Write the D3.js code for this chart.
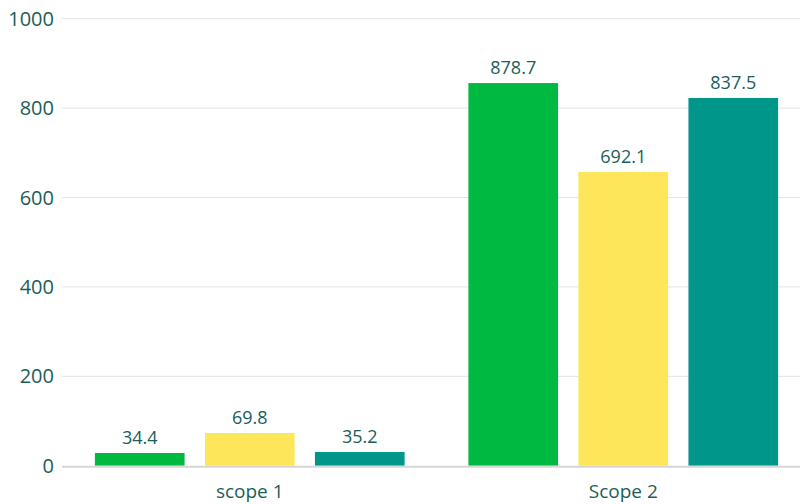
<!DOCTYPE html>
<html>
<head>
<meta charset="utf-8">
<script src="https://cdn.jsdelivr.net/npm/d3@7"></script>
<style>
  body { margin: 0; background: #fff; }
  text { font-family: "Open Sans", sans-serif; fill: #1b5e58; }
</style>
</head>
<body>
<div id="container"></div>
<script>
var categories = ["scope 1", "Scope 2"];
var series = ["a", "b", "c"];
// printed value labels
var labels = [[34.4, 69.8, 35.2], [878.7, 692.1, 837.5]];
// bar heights as drawn in the picture
var heights = [[28.4, 73.2, 30.6], [856, 657, 822.6]];
var yTicks = [0, 200, 400, 600, 800, 1000];

var colors = { a: "#00b941", b: "#fde65a", c: "#00968a" };

var W = 800, H = 504;
var margin = {top: 18.7, right: -10, bottom: 38.3, left: 63},
    width = W - margin.left - margin.right,
    height = H - margin.top - margin.bottom;

var svg = d3.select("#container")
  .append("svg")
    .attr("width", W)
    .attr("height", H)
  .append("g")
    .attr("transform", "translate(" + margin.left + "," + margin.top + ")");

var x0 = d3.scaleBand()
    .domain(categories)
    .range([0, width]);

var x1 = d3.scaleBand()
    .domain(series)
    .range([0, x0.bandwidth()])
    .paddingInner(0.185)
    .paddingOuter(0.29);

var y = d3.scaleLinear()
    .domain([0, 1000])
    .range([height, 0]);

// grid + tick labels
svg.selectAll(".grid")
  .data(yTicks.filter(function(d) { return d > 0; }))
  .enter().append("line")
    .attr("x1", -1)
    .attr("x2", 800)
    .attr("y1", function(d) { return y(d); })
    .attr("y2", function(d) { return y(d); })
    .attr("stroke", "#e3e3e3")
    .attr("stroke-width", 1);

svg.selectAll(".ytick")
  .data(yTicks)
  .enter().append("text")
    .attr("x", -9)
    .attr("y", function(d) { return y(d); })
    .attr("dy", "0.36em")
    .attr("text-anchor", "end")
    .style("font-size", "20px")
    .text(function(d) { return d; });

var rows = [];
categories.forEach(function(c, i) {
  series.forEach(function(s, j) {
    rows.push({cat: c, key: s, h: heights[i][j], label: labels[i][j]});
  });
});

svg.selectAll("rect")
  .data(rows)
  .enter().append("rect")
    .attr("x", function(d) { return x0(d.cat) + x1(d.key); })
    .attr("y", function(d) { return y(d.h); })
    .attr("width", x1.bandwidth())
    .attr("height", function(d) { return height - y(d.h); })
    .attr("fill", function(d) { return colors[d.key]; });

svg.selectAll(".vlabel")
  .data(rows)
  .enter().append("text")
    .attr("x", function(d) { return x0(d.cat) + x1(d.key) + x1.bandwidth() / 2; })
    .attr("y", function(d) { return y(d.h) - 9; })
    .attr("text-anchor", "middle")
    .style("font-size", "18px")
    .text(function(d) { return d.label; });

// baseline
svg.append("line")
    .attr("x1", -1)
    .attr("x2", 800)
    .attr("y1", height + 1)
    .attr("y2", height + 1)
    .attr("stroke", "#d6d6d6")
    .attr("stroke-width", 2);

svg.selectAll(".xlabel")
  .data(categories)
  .enter().append("text")
    .attr("x", function(d) { return x0(d) + x0.bandwidth() / 2; })
    .attr("y", height + 32)
    .attr("text-anchor", "middle")
    .style("font-size", "19px")
    .text(function(d) { return d; });
</script>
</body>
</html>
